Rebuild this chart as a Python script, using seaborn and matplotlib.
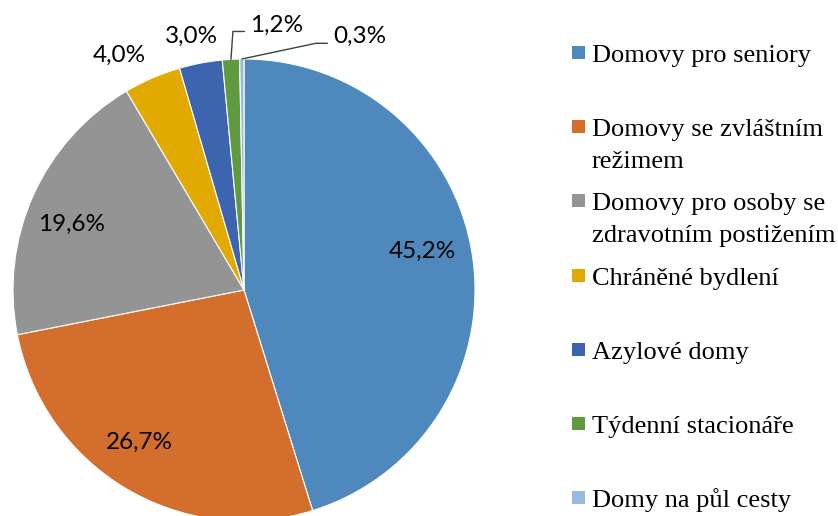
import numpy as np
import matplotlib
matplotlib.use('Agg')
import matplotlib.pyplot as plt
from matplotlib.font_manager import FontProperties
import seaborn as sns

# data
categories = ["Domovy pro seniory", "Domovy se zvláštním\nrežimem",
              "Domovy pro osoby se\nzdravotním postižením", "Chráněné bydlení",
              "Azylové domy", "Týdenní stacionáře", "Domy na půl cesty"]
shares = [45.2, 26.7, 19.6, 4.0, 3.0, 1.2, 0.3]
colors = ["#4F88BC", "#D36E2C", "#949494", "#E2A900", "#3D64AE", "#5F9A3E", "#98B9E0"]

# label layout: (radius, angle shift in deg), leader line yes/no
label_layout = [(0.79, 3.5), (0.80, -3.7), (0.80, 3.2), (1.15, 4.5),
                (1.12, 0.8), (1.156, -10.3), (1.205, -25.1)]
leader = [False, False, False, False, False, True, True]

sns.set_theme(style="white")
plt.rcParams['font.family'] = ['Lato', 'DejaVu Sans']
plt.rcParams['font.serif'] = ['Liberation Serif', 'DejaVu Serif']

W, H = 838, 516
fig = plt.figure(figsize=(W / 100, H / 100), dpi=100)
cx, cy, r = 244, 290, 231
ax = fig.add_axes([(cx - r) / W, (H - cy - r) / H, 2 * r / W, 2 * r / H])

wedges, _ = ax.pie(shares, colors=colors, startangle=90, counterclock=False,
                   radius=1, wedgeprops=dict(edgecolor="white", linewidth=0.8))
ax.set_xlim(-1, 1)
ax.set_ylim(-1, 1)
ax.set_axis_off()

for w, val, (rr, dth), ld in zip(wedges, shares, label_layout, leader):
    mid = np.deg2rad((w.theta1 + w.theta2) / 2)
    ang = mid + np.deg2rad(dth)
    tx, ty = rr * np.cos(ang), rr * np.sin(ang)
    ax.text(tx, ty, f"{val:.1f}%".replace(".", ","), ha="center", va="center",
            fontsize=17.5, color="black", clip_on=False)
    if ld:
        ex, ey = np.cos(mid), np.sin(mid)
        ly = ty - 0.028
        ax.plot([ex, tx - 0.19, tx - 0.14], [ey, ly, ly], color="#404040",
                lw=1, clip_on=False, solid_joinstyle="miter")

# legend, drawn as uniform slots
serif = FontProperties(family="serif", size=19)
y0, pitch, line_h = 62, 74.2, 32
for i, (lab, col) in enumerate(zip(categories, colors)):
    yb = y0 + i * pitch
    fig.patches.append(plt.Rectangle((572 / W, 1 - (yb - 3) / H), 13 / W, 13 / H,
                                     transform=fig.transFigure, facecolor=col,
                                     edgecolor="none"))
    for k, part in enumerate(lab.split("\n")):
        fig.text(592 / W, 1 - (yb + k * line_h) / H, part, ha="left", va="baseline",
                 fontproperties=serif, color="black")

fig.savefig("out.png", dpi=100)
